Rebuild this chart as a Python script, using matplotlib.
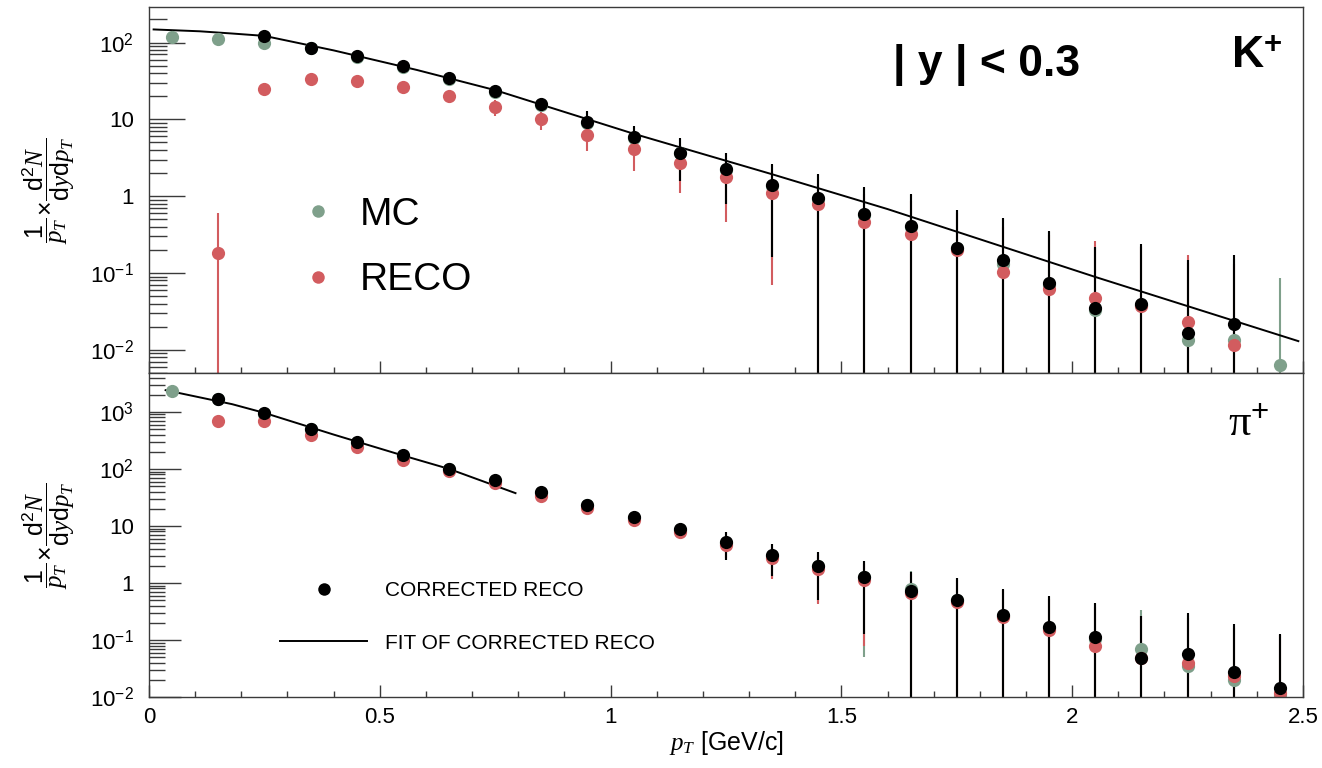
import numpy as np
import matplotlib
matplotlib.use("Agg")
import matplotlib.pyplot as plt
from matplotlib.lines import Line2D
from matplotlib.ticker import FixedLocator, LogLocator, NullFormatter, MultipleLocator, FuncFormatter

plt.rcParams['font.family'] = 'Liberation Sans'
plt.rcParams['mathtext.fontset'] = 'custom'
plt.rcParams['mathtext.rm'] = 'Liberation Sans'
plt.rcParams['mathtext.it'] = 'Liberation Serif:italic'
plt.rcParams['mathtext.bf'] = 'Liberation Sans:bold'

# pT bin centres [GeV/c]
pt = [0.05, 0.15, 0.25, 0.35, 0.45, 0.55, 0.65, 0.75, 0.85, 0.95,
      1.05, 1.15, 1.25, 1.35, 1.45, 1.55, 1.65, 1.75, 1.85, 1.95,
      2.05, 2.15, 2.25, 2.35, 2.45]
nan = np.nan

# ---- K+ spectra ----
k_mc = [117, 110, 100, 84, 65, 48, 34, 23, 15.5, 9.0,
        5.7, 3.6, 2.2, 1.35, 0.92, 0.57, 0.40, 0.21, 0.13, 0.07,
        0.033, 0.038, 0.0134, 0.0135, 0.0063]
k_mc_err = [2, 2, 2, 2, 2, 2, 2, 2.5, 2.5, 3.5,
            2.2, 2.0, 1.4, 1.2, 0.95, 0.72, 0.63, 0.45, 0.37, 0.27,
            0.18, 0.19, 0.12, 0.14, 0.079]
k_reco = [nan, 0.18, 24.5, 34, 32, 26, 20.4, 14.5, 10.1, 6.3,
          4.1, 2.7, 1.78, 1.1, 0.79, 0.46, 0.32, 0.20, 0.103, 0.062,
          0.048, 0.037, 0.023, 0.0117, nan]
k_reco_err = [nan, 0.43, 1.0, 1.0, 1.2, 1.5, 2.0, 3.5, 2.8, 2.4,
              2.0, 1.6, 1.32, 1.03, 0.85, 0.6, 0.55, 0.4, 0.3, 0.25,
              0.21, 0.18, 0.147, 0.12, nan]
k_corr = [nan, nan, 122, 85, 66, 49, 35, 23.5, 15.8, 9.2,
          5.9, 3.7, 2.24, 1.38, 0.95, 0.58, 0.41, 0.21, 0.148, 0.074,
          0.035, 0.039, 0.0165, 0.022, nan]
k_corr_err = [nan, nan, 3, 3, 3, 3, 3, 2.5, 2.5, 3.7,
              2.2, 2.1, 1.46, 1.22, 0.98, 0.74, 0.65, 0.46, 0.38, 0.28,
              0.185, 0.20, 0.13, 0.15, nan]
k_fit_pt = [0.01, 0.11, 0.18, 0.25, 0.40, 0.58, 0.75, 1.05, 1.35, 1.60, 2.05, 2.49]
k_fit = [148, 140, 131, 122, 79, 44, 24, 6.5, 1.93, 0.68, 0.089, 0.013]

# ---- pi+ spectra ----
pi_mc = [2310, 1650, 930, 500, 290, 170, 98, 62, 38, 23,
         13.8, 8.5, 5.1, 3.0, 1.95, 1.25, 0.78, 0.50, 0.26, 0.165,
         0.105, 0.07, 0.035, 0.0195, 0.011]
pi_mc_err = [30, 20, 15, 10, 8, 6, 4, 3, 2, 2,
             1.5, 1.4, 2.6, 1.8, 1.5, 1.2, 0.85, 0.7, 0.5, 0.4,
             0.32, 0.26, 0.24, 0.16, 0.11]
pi_reco = [nan, 705, 680, 400, 240, 146, 91, 56, 34, 21,
           12.5, 7.9, 4.7, 2.75, 1.74, 1.13, 0.66, 0.46, 0.255, 0.15,
           0.077, 0.048, 0.040, 0.023, 0.012]
pi_reco_err = [nan, 10, 10, 8, 6, 4, 3, 2.5, 2, 1.5,
               1.3, 1.2, 2.0, 1.58, 1.31, 1.05, 0.8, 0.65, 0.5, 0.38,
               0.3, 0.22, 0.2, 0.14, 0.11]
pi_corr = [nan, 1675, 940, 510, 296, 173, 100, 63, 39, 23.7,
           14.1, 8.7, 5.2, 3.1, 2.0, 1.28, 0.72, 0.51, 0.27, 0.17,
           0.112, 0.048, 0.057, 0.0275, 0.0145]
pi_corr_err = [nan, 20, 15, 10, 8, 6, 4, 3, 2, 2,
               1.5, 1.5, 2.7, 1.8, 1.5, 1.15, 0.85, 0.71, 0.52, 0.41,
               0.33, 0.22, 0.245, 0.16, 0.115]
pi_fit_pt = [0.036, 0.18, 0.25, 0.40, 0.55, 0.65, 0.794]
pi_fit = [2400, 1365, 960, 400, 172, 100, 37.6]

c_mc = '#7fa08b'
c_reco = '#d25c5f'
c_corr = 'black'
frame_col = '#3a3a3a'

fig = plt.figure(figsize=(13.22, 7.68), dpi=100)
ax_k = fig.add_axes([0.1127, 0.5143, 0.8729, 0.4766])
ax_pi = fig.add_axes([0.1127, 0.0924, 0.8729, 0.4219])

ylabel = r'$\dfrac{1}{p_{T}}\!\times\!\dfrac{\mathrm{d}^{2}N}{\mathrm{d}y\mathrm{d}p_{T}}$'


def draw_spectra(ax, mc, mc_err, reco, reco_err, corr, corr_err, fit_x, fit_y):
    ax.set_yscale('log', nonpositive='clip')
    kw = dict(fmt='o', markersize=9.5, elinewidth=1.5, capsize=0, markeredgewidth=0)
    ax.errorbar(pt, mc, yerr=mc_err, color=c_mc, ecolor=c_mc, **kw)
    ax.errorbar(pt, reco, yerr=reco_err, color=c_reco, ecolor=c_reco, **kw)
    ax.errorbar(pt, corr, yerr=corr_err, color=c_corr, ecolor=c_corr, **kw)
    ax.plot(fit_x, fit_y, color='black', lw=1.4)


def style_axes(ax, yticks, ylabels, ylim, major_len, minor_len):
    ax.set_xlim(0, 2.5)
    ax.set_ylim(*ylim)
    ax.yaxis.set_major_locator(FixedLocator(yticks))
    ax.set_yticklabels(ylabels)
    ax.yaxis.set_minor_locator(LogLocator(base=10, subs=np.arange(2, 10)))
    ax.yaxis.set_minor_formatter(NullFormatter())
    ax.xaxis.set_major_locator(MultipleLocator(0.5))
    ax.xaxis.set_minor_locator(MultipleLocator(0.1))
    ax.xaxis.set_major_formatter(FuncFormatter(lambda v, p: '%g' % v))
    ax.tick_params(axis='both', which='both', direction='in', color=frame_col,
                   labelsize=16, top=False, right=False)
    ax.tick_params(axis='y', which='major', length=major_len, width=1.0, pad=11)
    ax.tick_params(axis='y', which='minor', length=minor_len, width=1.0)
    ax.tick_params(axis='x', which='major', length=8.5, width=1.0, pad=7)
    ax.tick_params(axis='x', which='minor', length=4.3, width=1.0)
    for s in ax.spines.values():
        s.set_color(frame_col)
        s.set_linewidth(1.0)
    ax.set_ylabel(ylabel, fontsize=18)
    ax.yaxis.set_label_coords(-0.062, 0.5)


# K+ panel
draw_spectra(ax_k, k_mc, k_mc_err, k_reco, k_reco_err, k_corr, k_corr_err, k_fit_pt, k_fit)
style_axes(ax_k, [1e-2, 1e-1, 1, 10, 100],
           [r'$10^{-2}$', r'$10^{-1}$', '1', '10', r'$10^{2}$'],
           (0.005, 290), 26, 13)
ax_k.tick_params(axis='x', labelbottom=False)
ax_k.text(0.645, 0.842, '| y | < 0.3', transform=ax_k.transAxes, fontsize=32,
          fontweight='bold', va='center', ha='left')
ax_k.text(0.938, 0.865, r'K$^{\mathbf{+}}$', transform=ax_k.transAxes, fontsize=32,
          fontweight='bold', va='center', ha='left')
top_handles = [Line2D([], [], marker='o', ls='none', color=c_mc, markersize=9, markeredgewidth=0),
               Line2D([], [], marker='o', ls='none', color=c_reco, markersize=9, markeredgewidth=0)]
ax_k.legend(top_handles, ['MC', 'RECO'], loc='upper left', bbox_to_anchor=(0.130, 0.481),
            frameon=False, fontsize=28, borderpad=0, borderaxespad=0,
            handlelength=1.0, handletextpad=0.55, labelspacing=0.75)

# pi+ panel
draw_spectra(ax_pi, pi_mc, pi_mc_err, pi_reco, pi_reco_err, pi_corr, pi_corr_err, pi_fit_pt, pi_fit)
style_axes(ax_pi, [1e-2, 1e-1, 1, 10, 100, 1000],
           [r'$10^{-2}$', r'$10^{-1}$', '1', '10', r'$10^{2}$', r'$10^{3}$'],
           (0.01, 4800), 23, 11.5)
ax_pi.text(0.935, 0.84, 'π$^{+}$', transform=ax_pi.transAxes, fontsize=32,
           family='Liberation Serif', va='center', ha='left')
ax_pi.set_xlabel(r'$p_{T}$ [GeV/c]', fontsize=18)
ax_pi.xaxis.set_label_coords(0.5, -0.1)
bot_handles = [Line2D([], [], marker='o', ls='none', color='black', markersize=9, markeredgewidth=0),
               Line2D([], [], color='black', lw=1.4)]
ax_pi.legend(bot_handles, ['CORRECTED RECO', 'FIT OF CORRECTED RECO'], loc='upper left',
             bbox_to_anchor=(0.1135, 0.358), frameon=False, fontsize=15, borderpad=0,
             borderaxespad=0, handlelength=4.18, handletextpad=0.87, labelspacing=1.62)

fig.savefig('out.png', dpi=100)
